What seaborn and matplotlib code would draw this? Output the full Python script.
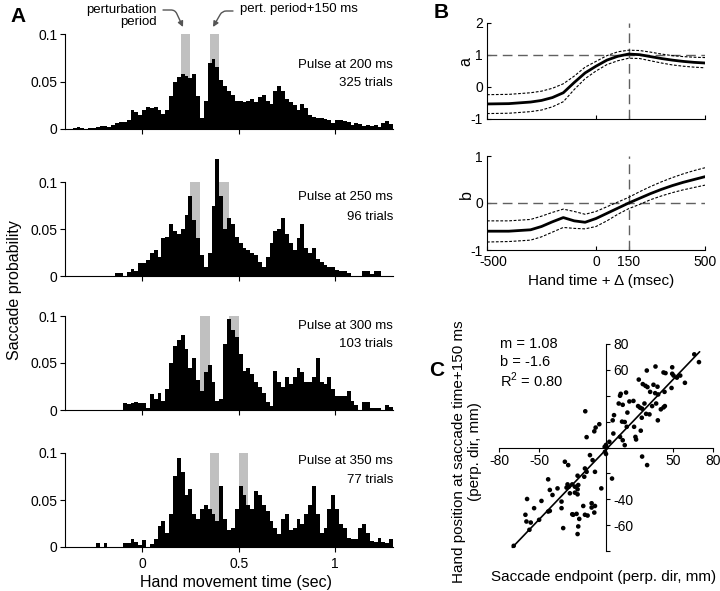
import numpy as np
import seaborn as sns
import matplotlib.pyplot as plt
from matplotlib.transforms import ScaledTranslation

# ---------------- panel A: saccade probability histograms ----------------
bin_start = -0.4      # sec
bin_width = 0.02      # sec
pulse_ms = [200, 250, 300, 350]
n_trials = [325, 96, 103, 77]

hist_200 = [0, 0, 0.001, 0.002, 0.001, 0.0005, 0.001, 0.001, 0.002, 0.003,
            0.003, 0.002, 0.004, 0.006, 0.007, 0.007, 0.010, 0.020, 0.018, 0.015,
            0.020, 0.023, 0.022, 0.023, 0.020, 0.016, 0.020, 0.035, 0.050, 0.055,
            0.058, 0.056, 0.054, 0.058, 0.035, 0.012, 0.030, 0.070, 0.074, 0.065,
            0.052, 0.045, 0.040, 0.036, 0.030, 0.030, 0.028, 0.030, 0.032, 0.028,
            0.034, 0.036, 0.030, 0.026, 0.040, 0.045, 0.040, 0.032, 0.028, 0.025,
            0.020, 0.026, 0.022, 0.015, 0.013, 0.012, 0.012, 0.011, 0.010, 0.006,
            0.010, 0.010, 0.008, 0.007, 0.004, 0.006, 0.005, 0.003, 0.004, 0.003,
            0.004, 0.002, 0.006, 0.008, 0.005]
hist_250 = [0, 0, 0, 0, 0, 0, 0, 0, 0, 0,
            0, 0, 0, 0.003, 0.003, 0, 0.004, 0.007, 0.005, 0.014,
            0.014, 0.017, 0.025, 0.028, 0.020, 0.040, 0.042, 0.055, 0.048, 0.045,
            0.050, 0.065, 0.085, 0.060, 0.040, 0.022, 0.010, 0.025, 0.075, 0.125,
            0.085, 0.050, 0.062, 0.055, 0.042, 0.035, 0.030, 0.028, 0.025, 0.022,
            0.015, 0.010, 0.020, 0.035, 0.048, 0.050, 0.062, 0.045, 0.035, 0.028,
            0.040, 0.055, 0.030, 0.025, 0.030, 0.018, 0.015, 0.012, 0.010, 0.010,
            0.006, 0.005, 0.005, 0.003, 0, 0, 0, 0.005, 0.005, 0.002,
            0.005, 0.005, 0, 0, 0]
hist_300 = [0, 0, 0, 0, 0, 0, 0, 0, 0, 0,
            0, 0, 0, 0, 0, 0.007, 0.006, 0.007, 0.009, 0.007,
            0.007, 0.002, 0.017, 0.012, 0.018, 0.010, 0.022, 0.050, 0.068, 0.075,
            0.080, 0.065, 0.045, 0.055, 0.032, 0.020, 0.040, 0.048, 0.030, 0.010,
            0.012, 0.070, 0.097, 0.085, 0.078, 0.060, 0.042, 0.045, 0.038, 0.030,
            0.025, 0.018, 0.008, 0.004, 0.042, 0.030, 0.025, 0.035, 0.028, 0.035,
            0.045, 0.040, 0.030, 0.030, 0.035, 0.055, 0.030, 0.028, 0.035, 0.022,
            0.015, 0.015, 0.015, 0.020, 0.010, 0.005, 0, 0.008, 0.008, 0.002,
            0.002, 0.002, 0, 0.005, 0.003]
hist_350 = [0, 0, 0, 0, 0, 0, 0, 0, 0.004, 0,
            0.004, 0, 0, 0, 0, 0.004, 0.004, 0.009, 0.005, 0.002,
            0.007, 0, 0.003, 0.008, 0.022, 0.028, 0.015, 0.035, 0.075, 0.095,
            0.080, 0.055, 0.062, 0.035, 0.030, 0.040, 0.045, 0.040, 0.035, 0.028,
            0.065, 0.030, 0.018, 0.020, 0.040, 0.065, 0.055, 0.045, 0.040, 0.060,
            0.055, 0.045, 0.038, 0.028, 0.020, 0.014, 0.030, 0.035, 0.018, 0.020,
            0.030, 0.025, 0.035, 0.045, 0.065, 0.035, 0.015, 0.020, 0.040, 0.055,
            0.040, 0.025, 0.020, 0.010, 0.008, 0.008, 0.020, 0.025, 0.015, 0.006,
            0.005, 0.010, 0.005, 0.004, 0.008]
hists = [hist_200, hist_250, hist_300, hist_350]

# ---------------- panel B: regression coefficients vs lag ----------------
lag_ms = [-500, -400, -300, -250, -200, -150, -100, -50, 0, 50, 100, 150,
          200, 250, 300, 350, 400, 450, 500]
a_mean = [-0.53, -0.52, -0.47, -0.42, -0.33, -0.18, 0.14, 0.44, 0.65, 0.84,
          0.96, 1.03, 1.01, 0.95, 0.89, 0.84, 0.80, 0.77, 0.75]
a_hi = [-0.24, -0.23, -0.18, -0.13, -0.04, 0.10, 0.34, 0.62, 0.80, 0.98,
        1.10, 1.15, 1.14, 1.09, 1.03, 0.98, 0.95, 0.93, 0.92]
a_lo = [-0.83, -0.82, -0.77, -0.72, -0.62, -0.46, -0.08, 0.26, 0.50, 0.70,
        0.82, 0.90, 0.89, 0.82, 0.75, 0.69, 0.65, 0.62, 0.60]
b_mean = [-0.60, -0.60, -0.57, -0.50, -0.40, -0.31, -0.38, -0.41, -0.33, -0.22,
          -0.11, 0.0, 0.10, 0.20, 0.29, 0.37, 0.44, 0.50, 0.56]
b_hi = [-0.38, -0.38, -0.35, -0.28, -0.20, -0.13, -0.18, -0.24, -0.18, -0.08,
        0.02, 0.12, 0.24, 0.35, 0.45, 0.54, 0.62, 0.69, 0.75]
b_lo = [-0.83, -0.82, -0.79, -0.72, -0.62, -0.52, -0.54, -0.55, -0.50, -0.38,
        -0.24, -0.12, -0.03, 0.07, 0.15, 0.22, 0.28, 0.33, 0.38]

# ---------------- panel C: hand position vs saccade endpoint ----------------
sacc_x = [66, 69.5, 37, 30.5, 43, 44.5, 49.5, 49.5, 50.5, 53, 55.5, 59, 49, 24.5,
          27.5, 29.5, 31, 35.5, 38.5, 33, 36.75, 39, 43.75, 11, 10.5, 15, 9.5,
          12.5, 17.5, 20.5, 28.75, 24, 25.5, 27, 30, 16, 6, 34.5, 37.5, 41, 43,
          44, 32.5, 38.75, 5, 12, 14, 26.75, 21, 26, 15.5, 5.5, 10.5, 12.5, 2.5,
          22, 22.5, 0, -1, 0.5, 14,
          -0.75, 0, 27, 30.75, 4.5,
          -15.5, -5, -7.75, -8.75, -14.5,
          -12, -10, -3.5, -30.75, -28.25, -15.75, -14.5, -16.25, -21.25, -8.25,
          -43.25, -36.25, -42, -40, -28.75, -27.75, -29.5, -25.25, -23.25, -20.75,
          -21.25, -27, -23.25, -21.25, -33.25, -33.25, -59, -48.25, -53.75,
          -60.25, -59.5, -56.25, -50, -43.25, -42, -24.5, -25.25, -22, -17,
          -15.75, -13.75, -20, -10.75, -8.25, -10.75, -8.75, -32, -20.75, -21.25,
          -57.25, -69]
hand_y = [72, 66, 62.6, 59.5, 58, 57.5, 62, 57, 55.6, 54, 55.6, 50, 46, 52.5,
          49, 47.7, 46.7, 48.5, 47, 43, 42, 41, 43, 41.5, 40, 42.5, 34,
          33, 35.6, 36, 34, 32, 30.8, 30, 26, 27, 25, 32, 34, 29.5, 31,
          32, 25.6, 21, 21, 20, 19.7, 23, 16, 13, 16, 10.8, 8.2, 5.6, 4.4,
          8.2, 6.2, 2, 0.5, 0, 1.8,
          -3.3, -5, -7, -13.6, -24,
          28, 18, 15.4, 12.5, 8,
          -5.9, -9.8, -31.6, -11, -13.6, -16.2, -18.8, -22.6, -21.8, -18.8,
          -24.6, -31.6, -32.8, -36.7, -28.5, -30.3, -31, -28.5, -30.3, -29,
          -32.3, -35.4, -34.9, -36.2, -41.8, -46.9, -39.8, -41.3, -46.9,
          -52, -57.2, -58, -55.9, -49.5, -49, -52, -51.6, -51.3, -45.2,
          -52, -52.6, -55.2, -43.1, -45.2, -46.4, -50.3, -62.3, -61, -66.9,
          -63.6, -76]
fit_m = 1.08
fit_b = -1.6
fit_r2 = 0.80
fit_x = [-70, 70]

# ---------------- style ----------------
sns.set_theme(style="ticks")
plt.rcParams["font.family"] = ["Liberation Sans", "DejaVu Sans"]
plt.rcParams["axes.unicode_minus"] = False
for k in ["text.color", "axes.labelcolor", "xtick.color", "ytick.color", "axes.edgecolor"]:
    plt.rcParams[k] = "black"
plt.rcParams["axes.linewidth"] = 0.8
plt.rcParams["xtick.labelsize"] = 10
plt.rcParams["ytick.labelsize"] = 10

W, H = 720, 591
fig = plt.figure(figsize=(7.2, 5.91), dpi=100)


def px_axes(left, top, right, bottom):
    return fig.add_axes([left / W, 1 - bottom / H, (right - left) / W, (bottom - top) / H])


def ftext(x, y, s, **kw):
    fig.text(x / W, 1 - y / H, s, **kw)


# ---- A ----
a_rows = [(34, 129), (182, 276), (316, 410), (453, 547)]
pulse_txt_y = [(0.674, 0.484), (0.844, 0.63), (0.895, 0.70), (0.92, 0.71)]
gray = "#c0c0c0"
axes_a = []
for i, (top, bot) in enumerate(a_rows):
    ax = px_axes(65, top, 393, bot)
    ax.set_facecolor("none")
    vals = hists[i]
    edges = [bin_start + bin_width * k for k in range(len(vals) + 1)]
    centers = [e + bin_width / 2 for e in edges[:-1]]
    p = pulse_ms[i] / 1000
    ax.axvspan(p, p + 0.05, color=gray, lw=0, zorder=0.5)
    ax.axvspan(p + 0.15, p + 0.20, color=gray, lw=0, zorder=0.5)
    sns.histplot(x=centers, weights=vals, bins=edges, element="step", fill=True,
                 color="black", alpha=1, linewidth=0, ax=ax)
    for c in ax.collections:
        c.set_clip_on(False)
    ax.set_xlim(-0.4, 1.3)
    ax.set_ylim(0, 0.1)
    ax.set_yticks([0, 0.05, 0.1])
    ax.set_yticklabels(["0", "0.05", "0.1"])
    ax.set_xticks([0, 0.5, 1])
    ax.set_xticklabels(["0", "0.5", "1"])
    ax.tick_params(direction="out", length=3.5, width=0.8, pad=2)
    ax.tick_params(axis="x", pad=3.5)
    if i < 3:
        ax.tick_params(labelbottom=False)
    ax.set_xlabel("")
    ax.set_ylabel("")
    sns.despine(ax=ax)
    ty1, ty2 = pulse_txt_y[i]
    ax.text(1.0, ty1, f"Pulse at {pulse_ms[i]} ms", transform=ax.transAxes,
            ha="right", va="center", fontsize=9.5)
    ax.text(1.0, ty2, f"{n_trials[i]} trials", transform=ax.transAxes,
            ha="right", va="center", fontsize=9.5)
    axes_a.append(ax)

ftext(157, 16, "perturbation\nperiod", ha="right", va="center", fontsize=9.5,
      multialignment="right", linespacing=1.1)
ftext(240, 9, "pert. period+150 ms", ha="left", va="center", fontsize=9.5)
arrow_kw = dict(arrowstyle="-|>", color="#555555", lw=1.0, shrinkA=0, shrinkB=0,
                mutation_scale=8)
axes_a[0].annotate("", xy=(183, H - 27), xycoords="figure pixels",
                   xytext=(163, H - 10), textcoords="figure pixels",
                   arrowprops=dict(connectionstyle="angle,angleA=0,angleB=115,rad=4", **arrow_kw))
axes_a[0].annotate("", xy=(213, H - 27), xycoords="figure pixels",
                   xytext=(233, H - 11), textcoords="figure pixels",
                   arrowprops=dict(connectionstyle="angle,angleA=0,angleB=60,rad=4", **arrow_kw))
ftext(15, 290, "Saccade probability", rotation=90, ha="center", va="center", fontsize=11.5)
ftext(236, 583, "Hand movement time (sec)", ha="center", va="center", fontsize=11.5)

# ---- B ----
ref_kw = dict(color="#606060", lw=1.0, ls=(0, (7, 4)), zorder=1)
band_kw = dict(color="black", lw=0.8, ls=(0, (2.5, 1.5)), errorbar=None)
axb1 = px_axes(487, 23, 705, 119)
axb2 = px_axes(487, 156, 705, 250)
for ax, m, hi, lo, yl, href, yticks in [
        (axb1, a_mean, a_hi, a_lo, (-1, 2), 1, [-1, 0, 1, 2]),
        (axb2, b_mean, b_hi, b_lo, (-1, 1), 0, [-1, 0, 1])]:
    ax.set_facecolor("none")
    ax.axhline(href, **ref_kw)
    ax.axvline(150, **ref_kw)
    sns.lineplot(x=lag_ms, y=hi, ax=ax, **band_kw)
    sns.lineplot(x=lag_ms, y=lo, ax=ax, **band_kw)
    sns.lineplot(x=lag_ms, y=m, ax=ax, color="black", lw=2.0, errorbar=None)
    ax.set_xlim(-500, 500)
    ax.set_ylim(*yl)
    ax.set_yticks(yticks)
    ax.set_xticks([-500, 0, 150, 500])
    ax.tick_params(direction="in", length=3, width=0.8, pad=3)
    sns.despine(ax=ax)
axb1.tick_params(labelbottom=False)
axb2.set_xticklabels(["-500", "0", "150", "500"])
axb2.tick_params(axis="x", pad=3.5)
# nudge the first label to the right, as in the original figure
first = axb2.get_xticklabels()[0]
first.set_transform(first.get_transform() + ScaledTranslation(0.06, 0, fig.dpi_scale_trans))
ftext(466, 62, "a", rotation=90, ha="center", va="center", fontsize=11.5)
ftext(466, 195, "b", rotation=90, ha="center", va="center", fontsize=11.5)
ftext(601, 281, "Hand time + Δ (msec)", ha="center", va="center", fontsize=11)

# ---- C ----
axc = px_axes(499, 344, 713, 551)
axc.set_facecolor("none")
sns.scatterplot(x=sacc_x, y=hand_y, color="black", s=11, edgecolor="none", ax=axc)
fit_y = fit_m * np.array(fit_x) + fit_b
sns.lineplot(x=fit_x, y=fit_y, color="black", lw=1.2, errorbar=None, ax=axc)
axc.set_xlim(-80, 80)
axc.set_ylim(-80, 80)
axc.spines["left"].set_visible(False)
axc.spines["top"].set_visible(False)
axc.spines["right"].set_position(("data", 0))
axc.spines["bottom"].set_position(("data", 0))
axc.yaxis.tick_right()
yt = list(range(-80, 81, 20))
axc.set_yticks(yt)
axc.set_yticklabels([str(v) if v in (80, 60, -40, -60) else "" for v in yt])
axc.set_xticks([-80, -50, 50, 80])
axc.set_xticklabels(["-80", "-50", "50", "80"])
axc.tick_params(direction="out", length=3, width=0.8, pad=2)
axc.text(-79, 80, "m = 1.08", ha="left", va="center", fontsize=10.5)
axc.text(-79, 66, f"b = {fit_b}", ha="left", va="center", fontsize=10.5)
axc.text(-79, 52, f"R$^{{\\mathregular{{2}}}}$ = {fit_r2:.2f}", ha="left", va="center", fontsize=10.5)
ftext(467, 452, "Hand position at saccade time+150 ms\n(perp. dir, mm)", rotation=90,
      ha="center", va="center", fontsize=11, linespacing=1.2)
ftext(604, 577, "Saccade endpoint (perp. dir, mm)", ha="center", va="center", fontsize=11)

# panel letters
ftext(18, 17, "A", ha="center", va="center", fontsize=15, weight="bold")
ftext(441, 13, "B", ha="center", va="center", fontsize=15, weight="bold")
ftext(437, 370, "C", ha="center", va="center", fontsize=15, weight="bold")

fig.savefig("out.png", dpi=100)
